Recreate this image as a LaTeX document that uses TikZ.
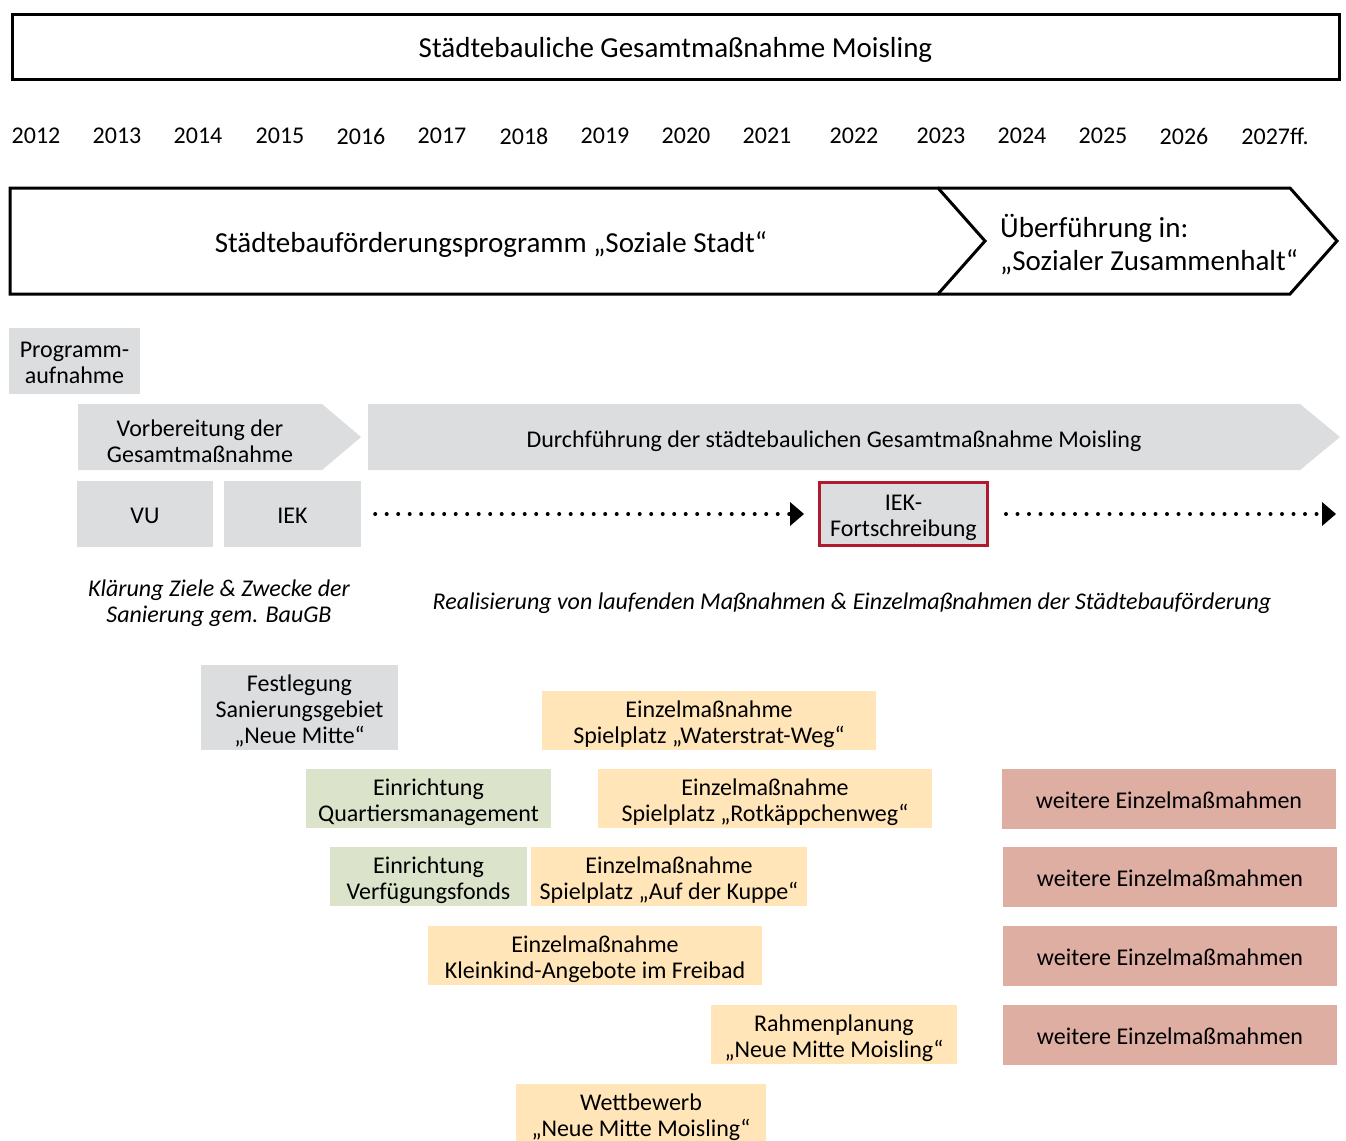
\documentclass[tikz,border=0pt]{standalone}
\usepackage{fontspec}
\setmainfont{Carlito}
\usepackage{tikz}
\usetikzlibrary{
  arrows.meta
}
\definecolor{boxgray}{HTML}{DCDDDF}
\definecolor{boxorange}{HTML}{FFE5B8}
\definecolor{boxgreen}{HTML}{DBE3CA}
\definecolor{boxred}{HTML}{DEAEA3}
\definecolor{framered}{HTML}{B01A2F}

\begin{document}
\begin{tikzpicture}[x=1pt,y=-1pt,
    every node/.style={font=\fontsize{24}{26}\selectfont, align=center, inner sep=0pt},
    big/.style={font=\fontsize{29}{33}\selectfont},
    rows/.style={text height=#1, text depth=0pt},
    gbox/.style={fill=boxgray},
    obox/.style={fill=boxorange},
    lbox/.style={fill=boxgreen},
    rbox/.style={fill=boxred, rows=19pt, minimum width=334, minimum height=60},
    dotline/.style={line width=4pt, line cap=round, dash pattern=on 0pt off 11.5pt,
      -{Triangle[length=14pt, width=24pt, line width=0pt]}}]
      \useasboundingbox (0,0) rectangle (1346,1140);

      % head
      \node [big, rows=22pt, draw, line width=3pt, minimum width=1327, minimum height=64] (title) at (675.5,47) {Städtebauliche Gesamtmaßnahme Moisling};

      % years
      \foreach \yr/\xp in {2012/36, 2013/117, 2014/198, 2015/280, 2016/361, 2017/442,
        2018/524, 2019/605, 2020/686, 2021/767, 2022/854, 2023/941, 2024/1022,
        2025/1103, 2026/1184}
        \node (y\yr) at (\xp,136) {\yr};
      \node (y2027) at (1275,136) {2027ff.};

      % programme
      \draw [line width=3pt, line join=miter] (10,188) -- (938,188) -- (985,241) -- (938,294) -- (10,294) -- cycle;
      \draw [line width=3pt, line join=miter] (938,188) -- (1290,188) -- (1337,241) -- (1290,294) -- (938,294);
      \node [big] (prog) at (491,245) {Städtebauförderungsprogramm „Soziale Stadt“};
      \node [big, align=left, anchor=west] (ueber) at (1000,245) {Überführung in:\\„Sozialer Zusammenhalt“};

      % phases
      \node [gbox, rows=45pt, minimum width=131, minimum height=66] (aufn) at (74.5,361) {Programm-\\aufnahme};
      \fill [boxgray] (78,404) -- (322,404) -- (361,437) -- (322,470) -- (78,470) -- cycle;
      \node (vorb) at (200,441) {Vorbereitung der\\Gesamtmaßnahme};
      \fill [boxgray] (368,404) -- (1300,404) -- (1340,437) -- (1300,470) -- (368,470) -- cycle;
      \node (durch) at (834,441) {Durchführung der städtebaulichen Gesamtmaßnahme Moisling};

      \node [gbox, rows=19pt, minimum width=136, minimum height=66] (vu) at (145,514) {VU};
      \node [gbox, rows=19pt, minimum width=137, minimum height=66] (iek) at (292.5,514) {IEK};
      \node [gbox, rows=45pt, draw=framered, line width=3pt, minimum width=168, minimum height=63] (iekfs) at (903.5,514) {IEK-\\Fortschreibung};
      \coordinate (dotend) at (1336,514);
      \draw [dotline] ([xshift=14pt]iek.east) -- ([xshift=-14pt]iekfs.west);
      \draw [dotline] ([xshift=17pt]iekfs.east) -- (dotend);

      \node [font=\fontsize{24}{26}\selectfont\itshape] (klaer) at (219,603) {Klärung Ziele \& Zwecke der\\Sanierung gem. BauGB};
      \node [font=\fontsize{24}{26}\selectfont\itshape] (real) at (852,603) {Realisierung von laufenden Maßnahmen \& Einzelmaßnahmen der Städtebauförderung};

      % measures
      \node [gbox, rows=71pt, minimum width=197, minimum height=85] (festl) at (299.5,707.5) {Festlegung\\Sanierungsgebiet\\„Neue Mitte“};
      \node [obox, rows=45pt, minimum width=334, minimum height=59] (water) at (709,720.5) {Einzelmaßnahme\\Spielplatz „Waterstrat-Weg“};
      \node [lbox, rows=45pt, minimum width=245, minimum height=59] (quart) at (428.5,798.5) {Einrichtung\\Quartiersmanagement};
      \node [obox, rows=45pt, minimum width=334, minimum height=59] (rotk) at (765,798.5) {Einzelmaßnahme\\Spielplatz „Rotkäppchenweg“};
      \node [lbox, rows=45pt, minimum width=197, minimum height=59] (vfond) at (428.5,876.5) {Einrichtung\\Verfügungsfonds};
      \node [obox, rows=45pt, minimum width=276, minimum height=59] (kuppe) at (669,876.5) {Einzelmaßnahme\\Spielplatz „Auf der Kuppe“};
      \node [obox, rows=45pt, minimum width=334, minimum height=59] (klein) at (595,955.5) {Einzelmaßnahme\\Kleinkind-Angebote im Freibad};
      \node [obox, rows=45pt, minimum width=246, minimum height=59] (rahmen) at (834,1034.5) {Rahmenplanung\\„Neue Mitte Moisling“};
      \node [obox, rows=45pt, minimum width=250, minimum height=59] (wettb) at (641,1113.5) {Wettbewerb\\„Neue Mitte Moisling“};

      \node [rbox] (weit1) at (1169,799) {weitere Einzelmaßmahmen};
      \node [rbox] (weit2) at (1170,877) {weitere Einzelmaßmahmen};
      \node [rbox] (weit3) at (1170,956) {weitere Einzelmaßmahmen};
      \node [rbox] (weit4) at (1170,1035) {weitere Einzelmaßmahmen};

    \end{tikzpicture}
\end{document}
